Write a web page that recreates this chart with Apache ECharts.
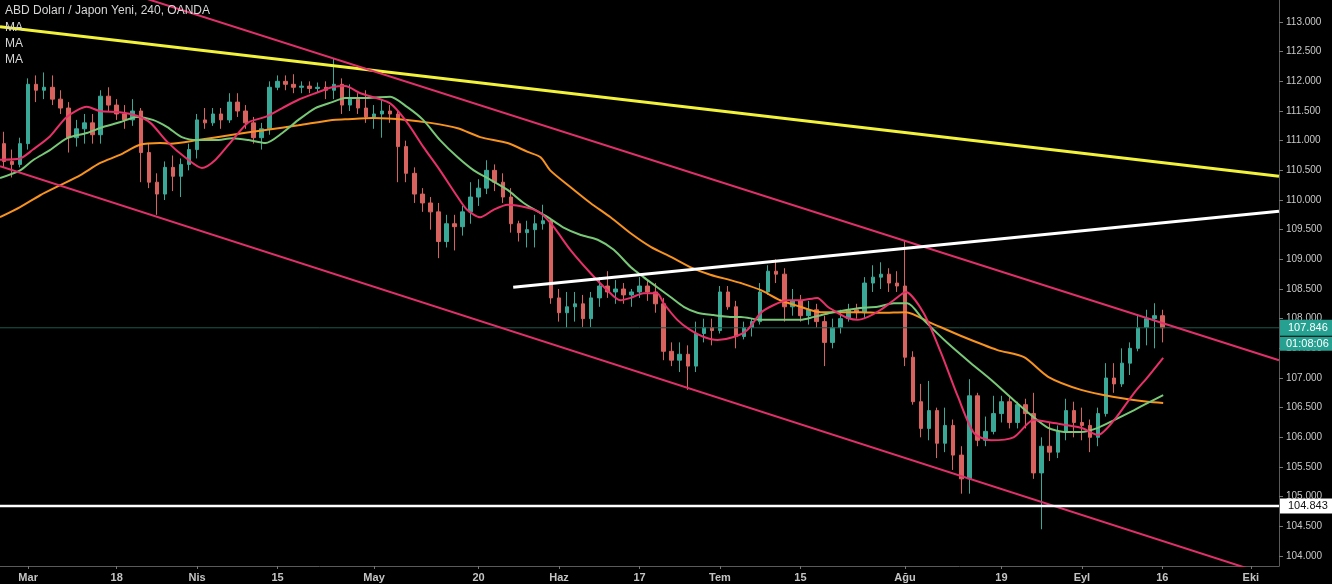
<!DOCTYPE html>
<html><head><meta charset="utf-8">
<script src="https://cdn.jsdelivr.net/npm/echarts@6/dist/echarts.min.js"></script>
<style>html,body{margin:0;padding:0;background:#000;}#c{width:1332px;height:584px;}</style>
</head><body><div id="c"></div>
<script>
// ---- DATA ----
const title = 'ABD Doları / Japon Yeni, 240, OANDA';
const maLabels = ['MA', 'MA', 'MA'];
const firstDay = '2019-02-26';
const dayCount = 159;
// daily candles [open, close, low, high], day index 0 = 26 Feb 2019
const candles = [
[110.95,110.65,110.55,111.15],[110.65,110.6,110.38,110.85],[110.6,110.95,110.55,111.05],[110.95,111.95,110.85,112.05],
[111.95,111.85,111.65,112.1],[111.85,111.9,111.7,112.15],[111.9,111.7,111.6,112.1],[111.7,111.55,111.45,111.85],
[111.55,111.05,110.8,111.65],[111.05,111.2,110.9,111.35],[111.2,111.3,110.95,111.45],[111.3,111.1,110.95,111.45],
[111.1,111.75,110.95,111.85],[111.75,111.6,111.5,111.9],[111.6,111.45,111.35,111.7],[111.45,111.35,111.2,111.6],
[111.35,111.5,111.25,111.7],[111.5,110.8,110.3,111.55],[110.8,110.3,110.2,110.95],[110.3,110.1,109.75,110.45],
[110.1,110.55,110.0,110.65],[110.55,110.4,110.15,110.75],[110.4,110.6,110.05,110.7],[110.6,110.85,110.5,110.95],
[110.85,111.35,110.7,111.45],[111.35,111.3,111.2,111.55],[111.3,111.45,111.25,111.55],[111.45,111.35,111.2,111.55],
[111.35,111.65,111.3,111.8],[111.65,111.5,111.4,111.8],[111.5,111.3,111.2,111.6],[111.3,111.05,110.95,111.4],
[111.05,111.2,110.85,111.3],[111.2,111.9,111.1,112.0],[111.9,112.0,111.85,112.1],[112.0,111.95,111.85,112.1],
[111.95,111.9,111.8,112.12],[111.9,111.92,111.8,112.0],[111.92,111.88,111.8,112.0],[111.88,111.9,111.82,111.98],
[111.9,111.85,111.7,112.0],[111.85,111.95,111.7,112.38],[111.95,111.6,111.45,112.05],[111.6,111.7,111.5,111.95],
[111.7,111.55,111.45,111.8],[111.55,111.4,111.3,111.85],[111.4,111.45,111.2,111.6],[111.45,111.5,111.05,111.7],
[111.5,111.45,111.3,111.6],[111.45,110.9,110.3,111.5],[110.9,110.45,110.3,111.0],[110.45,110.1,109.95,110.55],
[110.1,109.95,109.8,110.2],[109.95,109.8,109.5,110.05],[109.8,109.3,109.02,109.95],[109.3,109.6,109.2,109.75],
[109.6,109.55,109.15,109.75],[109.55,109.8,109.4,109.9],[109.8,110.05,109.6,110.3],[110.05,110.2,109.9,110.35],
[110.2,110.5,110.1,110.67],[110.5,110.3,110.15,110.6],[110.3,110.05,109.95,110.45],[110.05,109.6,109.45,110.2],
[109.6,109.45,109.3,109.65],[109.45,109.5,109.2,109.65],[109.5,109.6,109.2,109.75],[109.6,109.65,109.5,109.92],
[109.65,108.35,108.25,109.7],[108.35,108.1,107.95,108.5],[108.1,108.2,107.85,108.45],[108.2,108.25,107.95,108.45],
[108.25,108.0,107.86,108.4],[108.0,108.35,107.86,108.45],[108.35,108.55,108.2,108.7],[108.55,108.45,108.35,108.8],
[108.45,108.5,108.25,108.65],[108.5,108.4,108.25,108.6],[108.4,108.45,108.2,108.5],[108.45,108.55,108.35,108.7],
[108.55,108.45,108.3,108.65],[108.45,108.25,108.1,108.6],[108.25,107.45,107.3,108.35],[107.45,107.3,107.2,107.6],
[107.3,107.4,107.1,107.6],[107.4,107.2,106.8,107.55],[107.2,107.75,107.1,107.95],[107.75,107.85,107.6,108.0],
[107.85,107.8,107.55,108.0],[107.8,108.45,107.75,108.55],[108.45,108.2,108.15,108.55],[108.2,107.7,107.5,108.3],
[107.7,107.85,107.65,107.95],[107.85,107.95,107.7,108.0],[107.95,108.45,107.9,108.6],[108.45,108.8,108.4,108.9],
[108.8,108.75,108.6,109.0],[108.75,108.2,107.95,108.85],[108.2,108.3,108.05,108.5],[108.3,108.05,107.95,108.4],
[108.05,108.15,107.9,108.3],[108.15,107.95,107.85,108.25],[107.95,107.6,107.2,108.05],[107.6,107.85,107.5,108.0],
[107.85,108.0,107.75,108.15],[108.0,108.15,107.95,108.25],[108.15,108.1,108.0,108.25],[108.1,108.6,108.0,108.7],
[108.6,108.7,108.45,108.9],[108.7,108.75,108.5,108.95],[108.75,108.6,108.45,108.85],[108.6,108.55,108.45,108.8],
[108.55,107.35,107.2,109.32],[107.35,106.6,106.55,107.45],[106.6,106.15,106.0,106.9],[106.15,106.45,105.95,106.95],
[106.45,105.9,105.65,106.5],[105.9,106.2,105.75,106.5],[106.2,105.7,105.45,106.3],[105.7,105.3,105.05,105.85],
[105.3,106.7,105.05,106.98],[106.7,105.95,105.85,106.75],[105.95,106.1,105.85,106.35],[106.1,106.4,106.05,106.7],
[106.4,106.6,106.25,106.7],[106.6,106.25,106.15,106.7],[106.25,106.55,106.15,106.6],[106.55,106.4,106.15,106.65],
[106.4,105.4,105.3,106.75],[105.4,105.85,104.45,106.0],[105.85,105.75,105.6,106.25],[105.75,106.1,105.65,106.2],
[106.1,106.45,105.95,106.65],[106.45,106.25,106.0,106.6],[106.25,106.2,105.95,106.5],[106.2,106.0,105.75,106.3],
[106.0,106.4,105.85,106.5],[106.4,107.0,106.35,107.25],[107.0,106.9,106.75,107.25],[106.9,107.25,106.85,107.5],
[107.25,107.5,107.05,107.6],[107.5,107.85,107.45,108.05],[107.85,108.0,107.55,108.15],[108.0,108.05,107.5,108.26],
[108.05,107.846,107.6,108.15]
];
// moving averages: [day index, price]
const maFast = [[-0.5,110.68],[2.0,110.7],[3.6,110.85],[5.7,111.07],[7.8,111.4],[10.3,111.57],[11.9,111.5],[14.4,111.48],[16.5,111.42],[18.2,111.3],[20.3,110.98],[22.5,110.72],[24.6,110.54],[26.3,110.68],[28.4,111.01],[30.4,111.31],[32.5,111.4],[34.6,111.55],[36.6,111.69],[38.7,111.8],[40.8,111.9],[42.4,111.92],[44.3,111.8],[48.0,111.63],[50.1,111.31],[52.1,110.9],[54.2,110.5],[56.4,110.05],[57.6,109.83],[59.2,109.71],[60.8,109.83],[62.6,109.92],[65.1,109.87],[66.7,109.78],[68.3,109.55],[70.4,109.16],[72.9,108.77],[75.0,108.48],[76.6,108.31],[77.9,108.35],[79.5,108.43],[81.2,108.43],[82.0,108.26],[83.7,107.98],[85.3,107.81],[87.0,107.69],[88.7,107.64],[90.7,107.69],[92.4,107.81],[94.1,108.1],[95.7,108.23],[97.4,108.31],[99.0,108.31],[101.1,108.35],[102.4,108.2],[103.6,108.1],[104.9,108.01],[106.1,107.98],[107.4,108.03],[109.0,108.15],[110.6,108.31],[112.1,108.45],[114.3,108.1],[116.5,107.42],[118.6,106.68],[120.6,106.07],[122.7,105.95],[125.5,106.0],[128.0,106.29],[130.5,106.24],[133.9,106.16],[136.0,106.04],[138.0,106.29],[140.5,106.75],[142.2,107.02],[144.1,107.34]];
const maMid = [[-0.5,110.37],[2.0,110.5],[3.6,110.67],[5.7,110.84],[7.8,111.04],[10.3,111.13],[12.3,111.23],[14.4,111.31],[16.5,111.4],[18.5,111.35],[20.3,111.23],[22.1,111.06],[24.1,111.01],[26.3,111.01],[28.4,111.04],[30.4,111.01],[32.5,110.96],[34.6,111.13],[36.6,111.35],[38.7,111.55],[40.8,111.65],[42.4,111.72],[45.2,111.72],[48.0,111.74],[50.1,111.57],[52.1,111.35],[54.2,111.01],[56.4,110.72],[58.4,110.5],[60.5,110.34],[62.6,110.17],[64.6,109.95],[66.7,109.78],[67.6,109.71],[69.5,109.54],[71.7,109.41],[73.8,109.33],[75.8,109.16],[77.9,108.87],[79.5,108.7],[81.2,108.53],[82.9,108.36],[84.5,108.2],[86.2,108.1],[88.2,108.06],[90.3,108.03],[91.6,108.03],[94.1,107.98],[96.5,107.98],[99.0,107.98],[100.7,108.03],[102.8,108.1],[104.9,108.15],[106.5,108.18],[108.6,108.2],[110.6,108.26],[112.3,108.26],[114.3,107.98],[117.3,107.59],[120.2,107.25],[122.7,106.97],[125.5,106.63],[128.0,106.34],[129.8,106.16],[131.8,106.09],[133.9,106.09],[136.0,106.16],[138.0,106.29],[140.5,106.46],[142.2,106.58],[144.1,106.71]];
const maSlow = [[-0.5,109.71],[2.0,109.88],[4.5,110.08],[7.0,110.25],[9.5,110.42],[11.9,110.62],[14.4,110.76],[16.9,110.93],[19.4,110.96],[20.7,110.95],[24.1,111.01],[28.4,111.1],[32.5,111.18],[36.6,111.26],[40.8,111.35],[42.4,111.36],[45.9,111.38],[50.1,111.35],[53.0,111.3],[56.4,111.21],[59.2,111.06],[62.6,110.96],[65.1,110.81],[66.7,110.72],[67.9,110.5],[70.4,110.22],[72.9,109.95],[75.4,109.71],[77.9,109.44],[80.4,109.21],[82.9,109.04],[85.3,108.87],[87.8,108.74],[90.3,108.65],[91.6,108.6],[94.1,108.48],[96.5,108.31],[99.0,108.2],[101.5,108.11],[104.0,108.11],[106.5,108.11],[109.0,108.1],[112.1,108.11],[115.2,107.93],[119.3,107.69],[123.5,107.47],[126.8,107.35],[129.8,107.02],[133.9,106.8],[138.0,106.68],[142.2,106.6],[144.1,106.58]];
// drawn trend lines: [day index, price]
const yellowLine = [[-0.5,112.92],[158.5,110.40]];
const channelUpper = [[-0.5,114.18],[158.5,107.30]];
const channelLower = [[-0.5,110.57],[158.5,103.62]];
const whiteTrend = [[63.3,108.53],[158.5,109.81]];
const supportLevel = 104.843;
const lastPrice = 107.846;
const countdown = '01:08:06';
const priceTicks = [104,104.5,105,105.5,106,106.5,107,107.5,108,108.5,109,109.5,110,110.5,111,111.5,112,112.5,113];
const tickLabels = [[3,'Mar'],[14,'18'],[24,'Nis'],[34,'15'],[46,'May'],[59,'20'],[69,'Haz'],[79,'17'],[89,'Tem'],[99,'15'],[112,'Ağu'],[124,'19'],[134,'Eyl'],[144,'16'],[155,'Eki']];

// ---- BUILD ----
const categories = [];
{ let d = new Date(firstDay + 'T00:00:00Z');
  while (categories.length < dayCount) {
    const wd = d.getUTCDay();
    if (wd !== 0 && wd !== 6) categories.push(d.toISOString().slice(0,10));
    d = new Date(d.getTime() + 86400000);
  } }
const tickMap = {}; tickLabels.forEach(t => tickMap[t[0]] = t[1]);

const Y_MIN = 103.831, Y_MAX = 113.371;
const chart = echarts.init(document.getElementById('c'), null, {renderer:'canvas'});
function lineSeries(data, color, width, z, smooth) {
  return {type:'line', xAxisIndex:1, yAxisIndex:0, data, symbol:'none', silent:true, smooth: smooth || false,
    lineStyle:{color, width}, z: z || 3, clip:true, animation:false};
}
const option = {
  backgroundColor:'#000',
  animation:false,
  grid:{left:0, right:53, top:0, bottom:18},
  xAxis:[
    {type:'category', data:categories, boundaryGap:true,
     axisLine:{show:true, onZero:false, lineStyle:{color:'#5a5a5a', width:1}},
     axisTick:{show:true, alignWithLabel:true, length:3, interval:(i)=>tickMap[i]!==undefined, lineStyle:{color:'#777'}},
     axisLabel:{interval:(i)=>tickMap[i]!==undefined, formatter:(v,i)=>tickMap[i]||'', color:'#c4c4c4', fontSize:11, fontFamily:'Liberation Sans', fontWeight:'bold', margin:6},
     splitLine:{show:false}},
    {type:'value', min:-0.5, max:158.5, show:false, axisLine:{onZero:false}}
  ],
  yAxis:[{type:'value', position:'right', min:Y_MIN, max:Y_MAX, scale:true,
    axisLine:{show:true, onZero:false, lineStyle:{color:'#5a5a5a', width:1}},
    axisTick:{show:true, length:4, customValues:priceTicks, lineStyle:{color:'#777'}},
    axisLabel:{customValues:priceTicks, formatter:(v)=>v.toFixed(3), color:'#c8c8c8', fontSize:10, fontFamily:'Liberation Sans', margin:7},
    splitLine:{show:false}}],
  series:[
    {type:'candlestick', xAxisIndex:0, yAxisIndex:0, data:candles, barWidth:4, z:2,
     itemStyle:{color:'#3aa897', color0:'#d8625e', borderColor:'#3aa897', borderColor0:'#d8625e', borderWidth:1}},
    lineSeries(maSlow, '#f7931e', 2, 4, 0.25),
    lineSeries(maMid, '#78c878', 2, 4, 0.25),
    lineSeries(maFast, '#e8306a', 2, 4, 0.25),
    lineSeries([[-0.5,lastPrice],[158.5,lastPrice]], '#1e5a4c', 1, 3),
    lineSeries(yellowLine, '#f2f23a', 3, 5),
    lineSeries(channelUpper, '#e0306b', 2, 5),
    lineSeries(channelLower, '#e0306b', 2, 5),
    lineSeries(whiteTrend, '#ffffff', 3, 5),
    lineSeries([[-0.5,supportLevel],[158.5,supportLevel]], '#ffffff', 2.5, 5)
  ]
};
chart.setOption(option);

const yLast = chart.convertToPixel({yAxisIndex:0}, lastPrice);
const ySup = chart.convertToPixel({yAxisIndex:0}, supportLevel);
const axisX = chart.convertToPixel({xAxisIndex:1}, 158.5);
const txtFont = {fontFamily:'Liberation Sans', fontSize:12, fill:'#d6d6d6'};
chart.setOption({graphic:[
  {type:'text', left:5, top:5, z:20, style:Object.assign({text:title}, txtFont)},
  {type:'text', left:5, top:22, z:20, style:Object.assign({text:maLabels[0]}, txtFont)},
  {type:'text', left:5, top:38, z:20, style:Object.assign({text:maLabels[1]}, txtFont)},
  {type:'text', left:5, top:54, z:20, style:Object.assign({text:maLabels[2]}, txtFont)},
  {type:'rect', shape:{x:axisX+1, y:yLast-8, width:1332-axisX-1, height:16}, style:{fill:'#26a090'}, z:20},
  {type:'text', x:axisX+9, y:yLast, z:21, style:{text:lastPrice.toFixed(3), fill:'#fff', fontSize:11, fontFamily:'Liberation Sans', verticalAlign:'middle'}},
  {type:'rect', shape:{x:axisX+1, y:yLast+9, width:1332-axisX-1, height:14}, style:{fill:'#26a090'}, z:20},
  {type:'text', x:axisX+7, y:yLast+16, z:21, style:{text:countdown, fill:'#fff', fontSize:11, fontFamily:'Liberation Sans', verticalAlign:'middle'}},
  {type:'rect', shape:{x:axisX+1, y:ySup-7.5, width:1332-axisX-1, height:15}, style:{fill:'#ffffff'}, z:20},
  {type:'text', x:axisX+9, y:ySup, z:21, style:{text:supportLevel.toFixed(3), fill:'#111', fontSize:11, fontFamily:'Liberation Sans', verticalAlign:'middle'}}
]});
</script></body></html>
